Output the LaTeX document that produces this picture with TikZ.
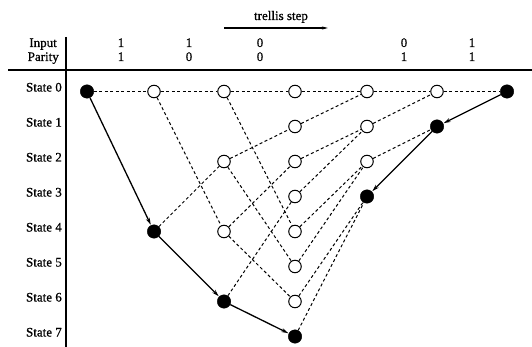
\documentclass[tikz,border=0pt]{standalone}
\usepackage{fontspec}
\setmainfont{Liberation Serif}[FakeBold=0.8]
\usetikzlibrary{arrows.meta}
\begin{document}
\begin{tikzpicture}[x=1pt,y=-1pt,
  font=\fontsize{13}{15}\selectfont,
  open/.style={circle,draw,line width=1pt,fill=white,inner sep=0pt,minimum size=12.5pt},
  full/.style={circle,fill=black,draw,inner sep=0pt,minimum size=13.5pt},
  tr/.style={line width=1pt,dash pattern=on 3pt off 2.5pt},
  path/.style={line width=1.3pt,-{Stealth[length=7pt,width=4pt]},shorten >=0.5pt},
  lab/.style={anchor=base east,inner sep=0pt},
  val/.style={anchor=base,inner sep=0pt}]
\useasboundingbox (0,0) rectangle (532,347);
% header
\node[val] (ts) at (281,20) {trellis step};
\coordinate (tsa) at (224,28);
\coordinate (tsb) at (328,28);
\draw[line width=1.1pt,-{Stealth[length=6pt,width=3pt]}] (tsa) -- (tsb);
\node[lab] (inp) at (57,47) {Input};
\node[lab] (par) at (59,61) {Parity};
\foreach \x/\i/\p [count=\k] in {121/1/1,189/1/0,260/0/0,404/0/1,472/1/1}{
  \node[val] (i\k) at (\x,47) {\i};
  \node[val] (p\k) at (\x,61) {\p};
}
\coordinate (hl) at (8,70);
\coordinate (hr) at (532,70);
\draw[line width=1.1pt] (hl) -- (hr);
\coordinate (vt) at (66,37);
\coordinate (vb) at (66,347);
\draw[line width=1.1pt] (vt) -- (vb);
% state labels
\foreach \s in {0,...,7}{
  \node[lab] (sl\s) at (62,{91.5+35*\s}) {State \s};
}
% nodes
\node[full] (n00) at (87,91.5) {};
\node[open] (n10) at (154,91.5) {};
\node[full] (n14) at (154,231.5) {};
\node[open] (n20) at (224,91.5) {};
\node[open] (n22) at (224,161.5) {};
\node[open] (n24) at (224,231.5) {};
\node[full] (n26) at (224,301.5) {};
\foreach \s in {0,...,6}{\node[open] (n3\s) at (295,{91.5+35*\s}) {};}
\node[full] (n37) at (295,336.5) {};
\node[open] (n40) at (367,91.5) {};
\node[open] (n41) at (367,126.5) {};
\node[open] (n42) at (367,161.5) {};
\node[full] (n43) at (367,196.5) {};
\node[open] (n50) at (437,91.5) {};
\node[full] (n51) at (437,126.5) {};
\node[full] (n60) at (507,91.5) {};
% dashed transitions
\foreach \a/\b in {n00/n10, n10/n20, n10/n24, n14/n22,
  n20/n30, n20/n34, n22/n31, n22/n35, n24/n32, n24/n36, n26/n33,
  n30/n40, n31/n40, n32/n41, n33/n41, n34/n42, n35/n42, n36/n43, n37/n43,
  n40/n50, n41/n50, n42/n51, n50/n60}{
  \draw[tr] (\a) -- (\b);
}
% decoded path
\draw[path] (n00) -- (n14);
\draw[path] (n14) -- (n26);
\draw[path] (n26) -- (n37);
\draw[path] (n60) -- (n51);
\draw[path] (n51) -- (n43);
\end{tikzpicture}
\end{document}
